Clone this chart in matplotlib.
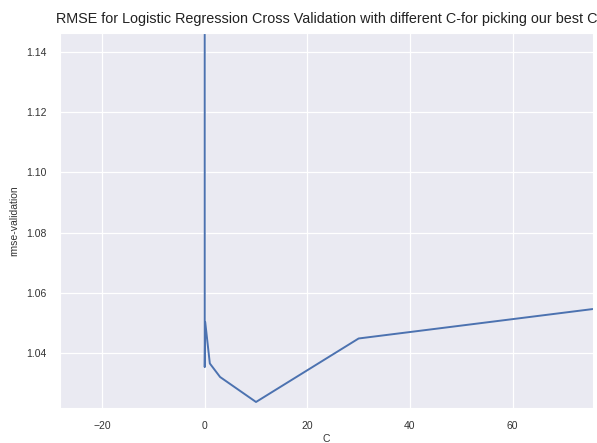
import matplotlib
matplotlib.use("Agg")
import matplotlib.pyplot as plt
import seaborn as sns

C_values = [0.001, 0.01, 0.1, 1, 3, 10, 30, 100]
rmse_validation = [1.30, 1.0353, 1.0503, 1.0365, 1.0320, 1.0237, 1.0448, 1.0598]
x_ticks = [-20, 0, 20, 40, 60]
y_ticks = [1.04, 1.06, 1.08, 1.10, 1.12, 1.14]

sns.set_style("darkgrid")
plt.rcParams['font.family'] = ['Liberation Sans', 'DejaVu Sans']

fig = plt.figure(figsize=(5.97, 4.43), dpi=100)
ax = fig.add_axes([0.1005, 0.079, 0.893, 0.8465])
ax.plot(C_values, rmse_validation, color="#4C72B0", linewidth=1.4)
ax.set_xlim(-28.2, 75.7)
ax.set_ylim(1.0217, 1.1463)
ax.set_xticks(x_ticks)
ax.set_yticks(y_ticks)
ax.set_yticklabels([f"{v:.2f}" for v in y_ticks])
ax.tick_params(labelsize=7.5, colors="#333333", pad=6)
ax.grid(linewidth=0.9)
ax.set_title("RMSE for Logistic Regression Cross Validation with different C-for picking our best C",
             fontsize=10.4, color="#222222", pad=7)
ax.set_xlabel("C", fontsize=7.5, color="#333333", labelpad=2)
ax.set_ylabel("rmse-validation", fontsize=7.5, color="#333333", labelpad=5)
fig.savefig("out.png", dpi=100)
